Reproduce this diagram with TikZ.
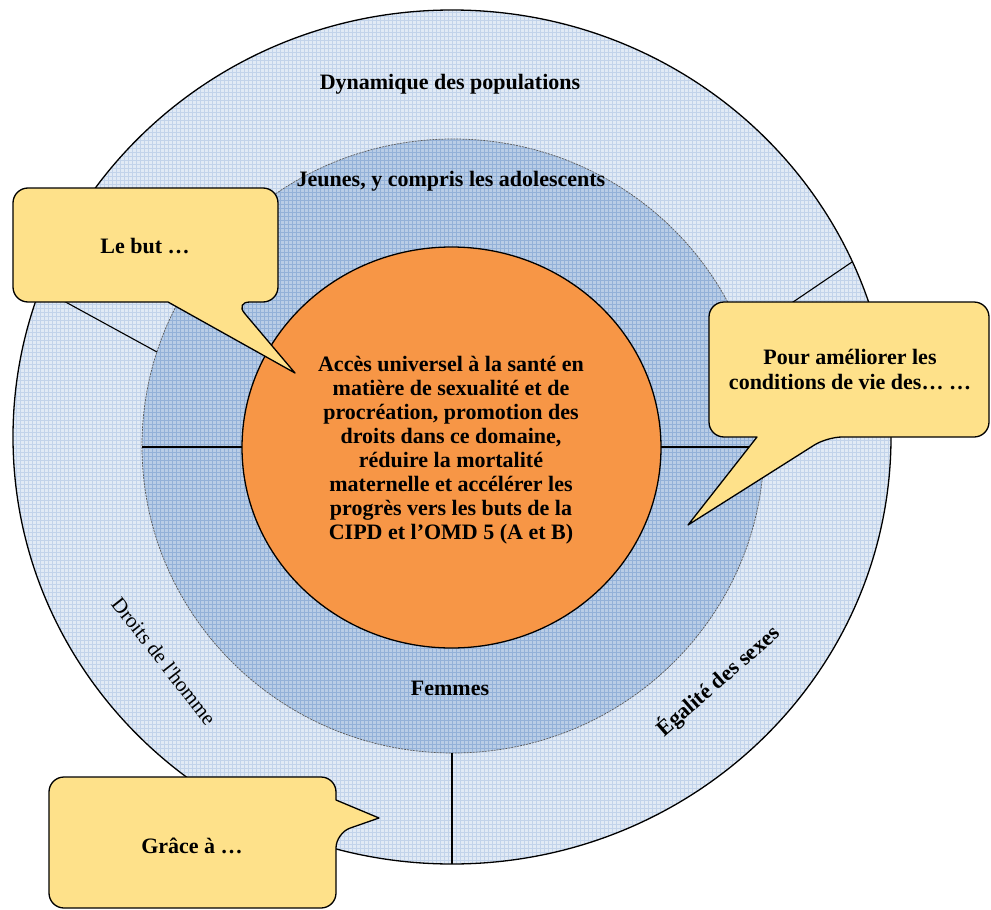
\documentclass[tikz,border=0pt]{standalone}
\usepackage{fontspec}
\setmainfont{Liberation Serif}
\definecolor{outerfill}{HTML}{E1EAF5}
\definecolor{outergrid}{HTML}{C2D3EA}
\definecolor{midfill}{HTML}{B9CDE6}
\definecolor{midgrid}{HTML}{93B1D8}
\definecolor{coreorange}{HTML}{F79646}
\definecolor{calloutyellow}{HTML}{FEE18A}
\begin{document}
\begin{tikzpicture}[x=1pt,y=-1pt,
  txt/.style={font=\bfseries\fontsize{22}{24}\selectfont, align=center, inner sep=0pt},
  ringtxt/.style={font=\fontsize{21}{24}\selectfont, inner sep=0pt},
  callout/.style={fill=calloutyellow, draw=black, line width=1.3pt, line join=round},
  divider/.style={draw=black, line width=1.1pt}]
\useasboundingbox (0,0) rectangle (991,910);
% outer ring
\begin{scope}
  \clip (452,437) ellipse [x radius=439pt, y radius=427pt];
  \fill[outerfill] (0,0) rectangle (991,910);
  \draw[outergrid, line width=0.3pt, step=4pt] (0,0) grid (991,910);
\end{scope}
\draw[line width=1.3pt] (452,437) ellipse [x radius=439pt, y radius=427pt];
% middle ring
\begin{scope}
  \clip (453,446) ellipse [x radius=311pt, y radius=307pt];
  \fill[midfill] (0,0) rectangle (991,910);
  \draw[midgrid, line width=0.35pt, step=4pt] (0,0) grid (991,910);
\end{scope}
\draw[black!65, line width=0.7pt, dash pattern=on 2pt off 1pt] (453,446) ellipse [x radius=311pt, y radius=307pt];
% dividers
\coordinate (ulo) at (40,288);
\coordinate (uli) at (157,352);
\coordinate (uro) at (852,262);
\coordinate (uri) at (743,336);
\coordinate (lo) at (142,447);
\coordinate (li) at (242,447);
\coordinate (ri) at (661,447);
\coordinate (ro) at (765,447);
\coordinate (bi) at (452,753);
\coordinate (bo) at (452,864);
\draw[divider] (ulo) -- (uli);
\draw[divider] (uro) -- (uri);
\draw[divider] (bi) -- (bo);
\draw[divider] (lo) -- (li);
\draw[divider] (ri) -- (ro);
% core
\fill[coreorange] (451.5,447.5) ellipse [x radius=209.5pt, y radius=200.5pt];
\draw[line width=1.3pt] (451.5,447.5) ellipse [x radius=209.5pt, y radius=200.5pt];
% texts
\node[txt] (dyn) at (450,84) {Dynamique des populations};
\node[txt] (jeunes) at (451,181) {Jeunes, y compris les adolescents};
\node[txt] (core) at (451,450) {Accès universel à la santé en\\matière de sexualité et de\\procréation, promotion des\\droits dans ce domaine,\\réduire la mortalité\\maternelle et accélérer les\\progrès vers les buts de la\\CIPD et l’OMD 5 (A et B)};
\node[txt] (femmes) at (450,688) {Femmes};
\node[ringtxt, rotate=-52] (droits) at (164,661) {Droits de l\textquotesingle homme};
\node[txt, rotate=41] (egal) at (718,681) {Égalité des sexes};
% callouts
\draw[callout] (295,373) -- (168,302) [rounded corners=15pt] -- (13,302) -- (13,188) -- (278,188) -- (278,302) -- (235,302) [sharp corners] -- cycle;
\node[txt] (but) at (145,246) {Le but …};
\draw[callout] (688,525) -- (757,437) [rounded corners=15pt] -- (709,437) -- (709,302) -- (989,302) -- (989,437) -- (827,437) [sharp corners] -- cycle;
\node[txt, font=\bfseries\fontsize{22}{25}\selectfont] (pour) at (850,370) {Pour améliorer les\\conditions de vie des… …};
\draw[callout] (379,818) -- (336,800) [rounded corners=15pt] -- (336,777) -- (49,777) -- (49,908) -- (336,908) -- (336,833) [sharp corners] -- cycle;
\node[txt] (grace) at (192,846) {Grâce à …};
\end{tikzpicture}
\end{document}
